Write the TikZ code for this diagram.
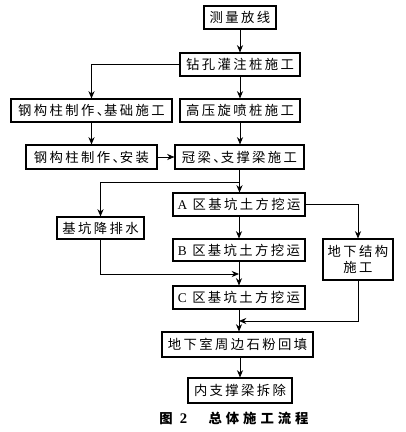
\documentclass[tikz,border=0pt]{standalone}
\usepackage{fontspec}
\setmainfont{Liberation Serif}
\newfontfamily\cjk[LetterSpace=18]{Noto Sans CJK SC}
\newfontfamily\cjkcap[LetterSpace=30]{Noto Sans CJK SC}
\newcommand\dunhao{、\kern-0.45em}
\usetikzlibrary{arrows.meta}
\begin{document}
\begin{tikzpicture}[x=0.75pt,y=-0.75pt,
  box/.style={draw,line width=0.8pt,inner sep=0pt,font=\cjk\fontsize{10}{12.5}\selectfont},
  arr/.style={-{Stealth[length=5.5pt,width=4.6pt]},line width=0.6pt},
  ln/.style={line width=0.6pt}]
\useasboundingbox (0,0) rectangle (406,432);
\node[box,minimum width=54pt,minimum height=17.25pt] (ce) at (240,17.5) {测量放线};
\node[box,minimum width=90pt,minimum height=17.25pt] (zk) at (240,64.5) {钻孔灌注桩施工};
\node[box,minimum width=120.75pt,minimum height=17.25pt] (gg) at (91.5,110.5) {钢构柱制作\dunhao 基础施工};
\node[box,minimum width=90pt,minimum height=17.25pt] (gy) at (240,110.5) {高压旋喷桩施工};
\node[box,minimum width=98.25pt,minimum height=18pt] (ga) at (91.5,157) {钢构柱制作\dunhao 安装};
\node[box,minimum width=96.75pt,minimum height=18pt] (gl) at (239.5,157) {冠梁\dunhao 支撑梁施工};
\node[box,minimum width=99pt,minimum height=17.25pt] (A) at (239,204.5) {{\rmfamily A} 区基坑土方挖运};
\node[box,minimum width=65.25pt,minimum height=16.5pt] (js) at (100.5,228) {基坑降排水};
\node[box,minimum width=99pt,minimum height=16.5pt] (B) at (239,250) {{\rmfamily B} 区基坑土方挖运};
\node[box,minimum width=52.5pt,minimum height=30.75pt,align=center] (dx) at (358,259.5) {地下结构\\施工};
\node[box,minimum width=99pt,minimum height=17.25pt] (C) at (239,297.5) {{\rmfamily C} 区基坑土方挖运};
\node[box,minimum width=113.25pt,minimum height=18.75pt] (dxs) at (237.5,344.5) {地下室周边石粉回填};
\node[box,minimum width=78pt,minimum height=18.75pt] (nz) at (240,390.5) {内支撑梁拆除};
\node[font=\cjkcap\bfseries\fontsize{10}{12}\selectfont] (cap) at (234,418) {图\ {\rmfamily\bfseries\fontsize{11}{12}\selectfont 2}\hspace{1.6em}总体施工流程};
\coordinate (j1) at (239.5,182);
\coordinate (j2) at (239,274);
\coordinate (j3) at (239,321);
\draw[arr] (ce) -- (zk);
\draw[arr] (zk.west) -| (gg.north);
\draw[arr] (zk) -- (gy);
\draw[arr] (gg) -- (ga);
\draw[arr] (gy.south) -- (gy.south |- gl.north);
\draw[arr] (ga) -- (gl);
\draw[arr] (gl.south) -- (gl.south |- A.north);
\draw[arr] (j1) -| (js.north);
\draw[arr] (A.east) -| (dx.north);
\draw[arr] (A) -- (B);
\draw[arr] (B) -- (C);
\draw[arr] (js.south) |- (j2);
\draw[arr] (dx.south) |- (j3);
\draw[arr] (C.south) -- (C.south |- dxs.north);
\draw[arr] (nz.north |- dxs.south) -- (nz.north);
\end{tikzpicture}
\end{document}
